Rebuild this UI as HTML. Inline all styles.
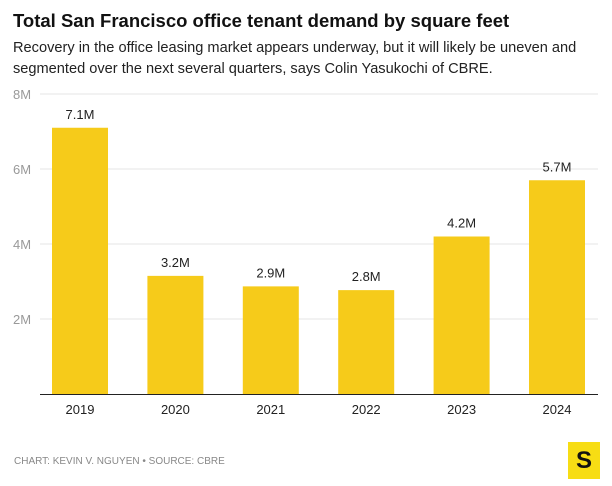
<!DOCTYPE html>
<html><head><meta charset="utf-8"><style>
body{margin:0;width:612px;height:486px;background:#fff;font-family:"Liberation Sans",sans-serif;overflow:hidden;position:relative}
.t{position:absolute;left:13px;top:10px;font-size:18.5px;font-weight:bold;color:#111}
.s{position:absolute;left:13px;top:38px;font-size:14.6px;line-height:21px;color:#222;width:595px}
.f{position:absolute;left:14px;top:456px;font-size:10px;color:#888}
.logo{position:absolute;left:568px;top:442px;width:32px;height:37px;background:#f7dd14;font-weight:bold;font-size:24px;text-align:center;line-height:37px;color:#111}
</style></head><body>
<div class="t">Total San Francisco office tenant demand by square feet</div>
<div class="s">Recovery in the office leasing market appears underway, but it will likely be uneven and segmented over the next several quarters, says Colin Yasukochi of CBRE.</div>
<svg id="c" width="612" height="486" style="position:absolute;left:0;top:0"></svg>
<div class="f">CHART: KEVIN V. NGUYEN • SOURCE: CBRE</div>
<div class="logo">S</div>
<script>
const categories=["2019","2020","2021","2022","2023","2024"];
const values=[7.1,3.15,2.87,2.77,4.2,5.7];
const valueLabels=["7.1M","3.2M","2.9M","2.8M","4.2M","5.7M"];
const ticks=[2,4,6,8];
const tickLabels=["2M","4M","6M","8M"];
const NS="http://www.w3.org/2000/svg",svg=document.getElementById('c');
const y=v=>394-v*37.5, x=i=>80+i*95.4;
function mk(t,a,txt){const e=document.createElementNS(NS,t);for(const k in a)e.setAttribute(k,a[k]);if(txt!=null)e.textContent=txt;svg.appendChild(e);return e;}
ticks.forEach((t,i)=>{
 const g=mk('line',{x1:40,x2:598,y1:y(t),y2:y(t),stroke:'#e6e6e6'});
 
 
 const l=mk('text',{x:13,y:y(t)+5,'font-size':13,fill:'#999','font-family':'Liberation Sans'},tickLabels[i]);
 
 
});
categories.forEach((c,i)=>{
 const b=mk('rect',{x:x(i)-28,y:y(values[i]),width:56,height:394-y(values[i]),fill:'#f6cb1a'});
 
 
 const v=mk('text',{x:x(i),y:y(values[i])-9,'font-size':13,fill:'#222','text-anchor':'middle','font-family':'Liberation Sans'},valueLabels[i]);
 
 
 const l=mk('text',{x:x(i),y:414,'font-size':13,fill:'#222','text-anchor':'middle','font-family':'Liberation Sans'},c);
 
 
});
const a=mk('line',{x1:40,x2:598,y1:394.5,y2:394.5,stroke:'#222','stroke-width':1});


</script>
</body></html>
